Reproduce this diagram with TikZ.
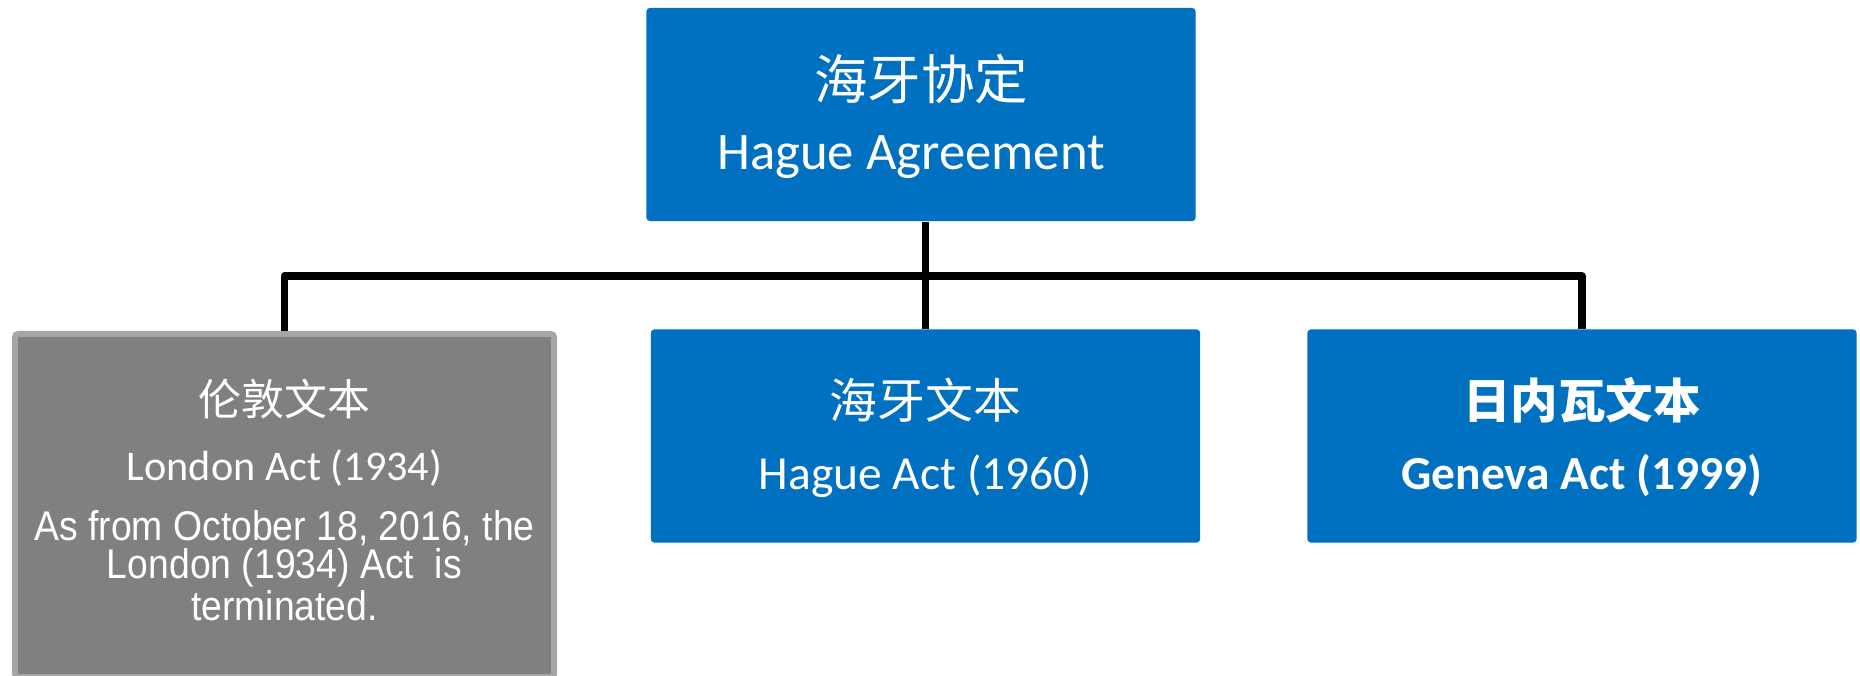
\documentclass[tikz,border=0pt]{standalone}
\usepackage{fontspec}
\setmainfont{Carlito}
\newfontfamily\cjk{Noto Sans CJK SC}
\newfontfamily\arialn[FakeStretch=0.9]{Liberation Sans}
\usetikzlibrary{positioning}
\definecolor{actblue}{RGB}{0,112,192}
\definecolor{oldgrey}{RGB}{128,128,128}
\definecolor{oldedge}{RGB}{166,166,166}

\tikzset{
  act/.style={rectangle, rounded corners=1pt, fill=actblue, inner sep=0pt,
    minimum width=5.49cm, minimum height=2.13cm},
  gone/.style={rectangle, rounded corners=1pt, fill=oldgrey, draw=oldedge,
    line width=1.7pt, inner sep=0pt, minimum width=5.39cm, minimum height=3.43cm},
  lbl/.style={text=white, inner sep=0pt, anchor=base},
  link/.style={line width=2.1pt, line join=round},
}

\begin{document}
\begin{tikzpicture}[x=0.01cm, y=-0.01cm]
        \useasboundingbox (0,0) rectangle (1860,676);

        % boxes %
        \node[act] (hague) at (921,114.5) {};
        \node[gone] (london) at (284.5,505.5) {};
        \node[act] (haguetext) at (925.5,436) {};
        \node[act] (geneva) at (1582,436) {};
        \coordinate (fork) at (925.5,276);

        % edges %
        \draw[link] (haguetext.north |- hague.south) -- (haguetext.north);
        \draw[link] (london.north) |- (fork) -| (geneva.north);

        % labels %
        \node[lbl, font=\cjk\fontsize{15.2}{18}\selectfont] (hague-zh) at (921,100) {海牙协定};
        \node[lbl, font=\fontsize{15}{18}\selectfont] (hague-en) at (911,170) {Hague Agreement};

        \node[lbl, font=\cjk\fontsize{12.2}{15}\selectfont] (london-zh) at (284.5,415) {伦敦文本};
        \node[lbl, font=\fontsize{12}{15}\selectfont] (london-en) at (284.5,480) {London Act (1934)};
        \node[lbl, anchor=north, align=center, font=\arialn\fontsize{11.8}{10.6}\selectfont] (london-note)
          at (284.5,510) {As from October 18, 2016, the\\London (1934) Act\ \ is\\terminated.};

        \node[lbl, font=\cjk\fontsize{13.6}{16}\selectfont] (haguetext-zh) at (925.5,418) {海牙文本};
        \node[lbl, font=\fontsize{13.5}{16}\selectfont] (haguetext-en) at (925.5,489) {Hague Act (1960)};

        \node[lbl, font=\cjk\bfseries\fontsize{13.5}{16}\selectfont] (geneva-zh) at (1582,418) {日内瓦文本};
        \node[lbl, font=\bfseries\fontsize{13.5}{16}\selectfont] (geneva-en) at (1582,489) {Geneva Act (1999)};
\end{tikzpicture}
\end{document}
